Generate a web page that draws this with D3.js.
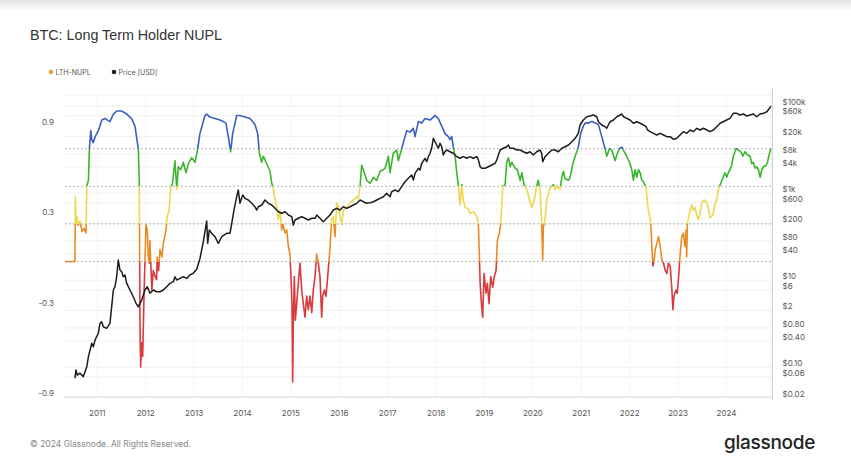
<!DOCTYPE html>
<html>
<head>
<meta charset="utf-8">
<script src="https://cdn.jsdelivr.net/npm/d3@7"></script>
<style>
  html, body { margin: 0; padding: 0; background: #fff; }
  svg { display: block; }
</style>
</head>
<body>
<svg id="chart" width="851" height="472"></svg>
<script>
// ---------------- DATA ----------------
const yearTicks = [2011, 2012, 2013, 2014, 2015, 2016, 2017, 2018, 2019, 2020, 2021, 2022, 2023, 2024];
const nuplTicks = [0.9, 0.3, -0.3, -0.9];
const zoneLevels = [0, 0.25, 0.5, 0.75];
const priceTicks = [100000, 60000, 20000, 8000, 4000, 1000, 600, 200, 80, 40, 10, 6, 2, 0.8, 0.4, 0.1, 0.06, 0.02];
const priceTickLabels = ["$100k", "$60k", "$20k", "$8k", "$4k", "$1k", "$600", "$200", "$80", "$40", "$10", "$6", "$2", "$0.80", "$0.40", "$0.10", "$0.06", "$0.02"];

// LTH-NUPL: [decimal year, value]
const lthNupl = [
  [2010.332, 0.00], [2010.539, 0.00], [2010.547, 0.43], [2010.560, 0.25], [2010.581, 0.30], [2010.607, 0.24],
  [2010.643, 0.27], [2010.685, 0.20], [2010.727, 0.22], [2010.768, 0.19], [2010.783, 0.50], [2010.817, 0.54],
  [2010.837, 0.75], [2010.866, 0.87], [2010.886, 0.81], [2010.916, 0.79], [2010.956, 0.83], [2011.024, 0.87],
  [2011.093, 0.94], [2011.163, 0.95], [2011.262, 0.93], [2011.332, 0.98], [2011.401, 1.00], [2011.501, 1.00],
  [2011.610, 0.98], [2011.709, 0.95], [2011.779, 0.90], [2011.819, 0.81], [2011.848, 0.75], [2011.868, 0.52],
  [2011.882, -0.41], [2011.896, -0.70], [2011.918, -0.54], [2011.938, -0.63], [2011.968, -0.19], [2011.992, 0.08],
  [2012.007, 0.25], [2012.033, 0.21], [2012.054, 0.03], [2012.077, -0.01], [2012.087, 0.14], [2012.127, -0.19],
  [2012.156, -0.06], [2012.196, -0.10], [2012.226, -0.12], [2012.236, 0.03], [2012.266, -0.06], [2012.296, 0.08],
  [2012.335, 0.03], [2012.365, 0.12], [2012.420, 0.21], [2012.445, 0.30], [2012.484, 0.34], [2012.514, 0.48],
  [2012.554, 0.52], [2012.604, 0.67], [2012.643, 0.48], [2012.673, 0.63], [2012.723, 0.61], [2012.777, 0.66],
  [2012.832, 0.59], [2012.882, 0.65], [2012.951, 0.69], [2013.020, 0.66], [2013.070, 0.74], [2013.120, 0.85],
  [2013.190, 0.93], [2013.225, 0.97], [2013.259, 0.98], [2013.328, 0.96], [2013.432, 0.95], [2013.535, 0.94],
  [2013.604, 0.93], [2013.659, 0.92], [2013.707, 0.83], [2013.756, 0.73], [2013.797, 0.85], [2013.880, 0.97],
  [2013.948, 0.97], [2014.051, 0.96], [2014.155, 0.95], [2014.258, 0.91], [2014.314, 0.85], [2014.348, 0.72],
  [2014.397, 0.66], [2014.430, 0.70], [2014.501, 0.65], [2014.569, 0.60], [2014.604, 0.52], [2014.638, 0.48],
  [2014.672, 0.41], [2014.707, 0.36], [2014.741, 0.28], [2014.776, 0.34], [2014.810, 0.21], [2014.832, 0.25],
  [2014.879, 0.19], [2014.914, 0.21], [2014.948, 0.10], [2014.981, 0.05], [2015.002, -0.10], [2015.023, -0.28],
  [2015.037, -0.80], [2015.050, -0.41], [2015.071, -0.10], [2015.092, -0.39], [2015.120, -0.28], [2015.153, -0.145],
  [2015.188, -0.01], [2015.223, -0.19], [2015.256, -0.28], [2015.292, -0.37], [2015.326, -0.23], [2015.360, -0.32],
  [2015.395, -0.23], [2015.430, -0.34], [2015.463, -0.19], [2015.498, -0.10], [2015.533, 0.05], [2015.567, -0.01],
  [2015.601, -0.10], [2015.636, -0.37], [2015.657, -0.23], [2015.691, -0.19], [2015.725, -0.23], [2015.760, -0.10],
  [2015.794, 0.03], [2015.822, 0.165], [2015.843, 0.28], [2015.877, 0.30], [2015.911, 0.165], [2015.946, 0.39],
  [2015.980, 0.36], [2016.015, 0.30], [2016.050, 0.25], [2016.083, 0.34], [2016.153, 0.36], [2016.222, 0.39],
  [2016.290, 0.41], [2016.360, 0.43], [2016.394, 0.42], [2016.429, 0.50], [2016.463, 0.64], [2016.497, 0.61],
  [2016.567, 0.54], [2016.635, 0.52], [2016.704, 0.56], [2016.774, 0.54], [2016.842, 0.60], [2016.911, 0.61],
  [2016.946, 0.62], [2017.013, 0.70], [2017.048, 0.59], [2017.116, 0.72], [2017.186, 0.74], [2017.220, 0.67],
  [2017.289, 0.75], [2017.393, 0.87], [2017.461, 0.86], [2017.530, 0.885], [2017.565, 0.83], [2017.633, 0.93],
  [2017.703, 0.92], [2017.771, 0.95], [2017.875, 0.94], [2017.977, 0.97], [2018.046, 0.95], [2018.116, 0.90],
  [2018.184, 0.85], [2018.253, 0.83], [2018.288, 0.81], [2018.323, 0.83], [2018.356, 0.76], [2018.392, 0.70],
  [2018.427, 0.59], [2018.461, 0.50], [2018.495, 0.375], [2018.530, 0.51], [2018.563, 0.41], [2018.599, 0.36],
  [2018.667, 0.35], [2018.702, 0.32], [2018.770, 0.33], [2018.841, 0.30], [2018.874, 0.25], [2018.895, 0.03],
  [2018.910, -0.145], [2018.941, -0.30], [2018.963, -0.37], [2018.990, -0.08], [2019.031, -0.21], [2019.059, -0.145],
  [2019.094, -0.28], [2019.128, -0.10], [2019.170, -0.17], [2019.203, -0.10], [2019.239, -0.06], [2019.266, 0.14],
  [2019.307, 0.19], [2019.336, 0.25], [2019.378, 0.50], [2019.425, 0.51], [2019.459, 0.66], [2019.494, 0.69],
  [2019.529, 0.63], [2019.564, 0.66], [2019.632, 0.62], [2019.680, 0.61], [2019.736, 0.54], [2019.771, 0.59],
  [2019.818, 0.51], [2019.875, 0.48], [2019.929, 0.41], [2019.974, 0.36], [2020.023, 0.40], [2020.064, 0.48],
  [2020.111, 0.54], [2020.147, 0.48], [2020.182, 0.25], [2020.203, 0.01], [2020.216, 0.23], [2020.251, 0.28],
  [2020.286, 0.41], [2020.320, 0.45], [2020.355, 0.49], [2020.423, 0.51], [2020.459, 0.48], [2020.493, 0.50],
  [2020.562, 0.48], [2020.597, 0.56], [2020.630, 0.60], [2020.666, 0.55], [2020.734, 0.54], [2020.770, 0.56],
  [2020.826, 0.65], [2020.873, 0.70], [2020.938, 0.76], [2020.987, 0.85], [2021.042, 0.90], [2021.077, 0.92],
  [2021.146, 0.92], [2021.216, 0.93], [2021.284, 0.92], [2021.353, 0.91], [2021.423, 0.83], [2021.491, 0.75],
  [2021.526, 0.70], [2021.580, 0.75], [2021.630, 0.74], [2021.699, 0.67], [2021.734, 0.71], [2021.788, 0.75],
  [2021.838, 0.76], [2021.886, 0.73], [2021.938, 0.70], [2022.007, 0.65], [2022.042, 0.61], [2022.076, 0.54],
  [2022.111, 0.61], [2022.146, 0.56], [2022.180, 0.61], [2022.215, 0.59], [2022.250, 0.54], [2022.284, 0.53],
  [2022.339, 0.49], [2022.367, 0.39], [2022.387, 0.34], [2022.408, 0.31], [2022.437, 0.25], [2022.458, 0.10],
  [2022.479, -0.03], [2022.505, 0.01], [2022.526, 0.08], [2022.561, 0.12], [2022.595, 0.165], [2022.630, 0.10],
  [2022.665, 0.01], [2022.698, -0.01], [2022.734, -0.06], [2022.768, -0.08], [2022.801, -0.01], [2022.837, -0.03],
  [2022.872, -0.19], [2022.892, -0.32], [2022.914, -0.23], [2022.954, -0.19], [2022.982, -0.21], [2023.011, -0.10],
  [2023.038, 0.03], [2023.074, 0.165], [2023.107, 0.19], [2023.142, 0.10], [2023.163, 0.21], [2023.177, 0.03],
  [2023.191, 0.25], [2023.232, 0.32], [2023.282, 0.375], [2023.315, 0.34], [2023.349, 0.36], [2023.384, 0.31],
  [2023.418, 0.28], [2023.453, 0.32], [2023.488, 0.39], [2023.536, 0.41], [2023.593, 0.39], [2023.626, 0.35],
  [2023.660, 0.29], [2023.695, 0.30], [2023.730, 0.32], [2023.764, 0.39], [2023.799, 0.41], [2023.832, 0.48],
  [2023.868, 0.51], [2023.920, 0.55], [2023.968, 0.59], [2024.003, 0.56], [2024.037, 0.59], [2024.072, 0.61],
  [2024.107, 0.64], [2024.141, 0.70], [2024.197, 0.75], [2024.245, 0.74], [2024.295, 0.73], [2024.336, 0.70],
  [2024.384, 0.73], [2024.432, 0.71], [2024.487, 0.70], [2024.522, 0.65], [2024.556, 0.66], [2024.591, 0.62],
  [2024.625, 0.63], [2024.660, 0.61], [2024.695, 0.56], [2024.730, 0.61], [2024.764, 0.63], [2024.819, 0.64],
  [2024.846, 0.66], [2024.889, 0.72], [2024.914, 0.75]
];

// BTC price in USD: [decimal year, price]
const priceUsd = [
  [2010.539, 0.056], [2010.560, 0.087], [2010.587, 0.066], [2010.643, 0.073], [2010.712, 0.061], [2010.747, 0.079],
  [2010.783, 0.103], [2010.817, 0.175], [2010.851, 0.249], [2010.886, 0.355], [2010.919, 0.296], [2010.954, 0.423],
  [2011.021, 0.603], [2011.055, 1.02], [2011.091, 1.11], [2011.124, 0.853], [2011.193, 0.783], [2011.262, 1.02],
  [2011.332, 5.94], [2011.366, 7.08], [2011.401, 12.0], [2011.434, 29.0], [2011.469, 17.1], [2011.505, 15.6],
  [2011.538, 12.0], [2011.572, 13.2], [2011.608, 8.47], [2011.675, 5.94], [2011.744, 4.17], [2011.800, 2.94],
  [2011.848, 2.45], [2011.882, 2.94], [2011.918, 3.50], [2011.985, 5.94], [2012.033, 7.08], [2012.089, 4.99],
  [2012.157, 5.94], [2012.228, 5.43], [2012.296, 5.43], [2012.364, 5.94], [2012.435, 7.08], [2012.502, 8.47],
  [2012.571, 9.23], [2012.606, 12.0], [2012.641, 10.1], [2012.709, 11.0], [2012.777, 12.0], [2012.848, 11.0],
  [2012.915, 13.2], [2012.983, 14.4], [2013.054, 17.8], [2013.122, 31.6], [2013.190, 76], [2013.261, 229],
  [2013.281, 70.3], [2013.314, 142], [2013.364, 119], [2013.432, 99.5], [2013.500, 70.3], [2013.571, 99.5],
  [2013.674, 119], [2013.742, 119], [2013.778, 202], [2013.824, 408], [2013.881, 826], [2013.913, 1178],
  [2013.948, 582], [2014.004, 904], [2014.051, 759], [2014.120, 693], [2014.190, 582], [2014.258, 486],
  [2014.294, 408], [2014.327, 486], [2014.398, 532], [2014.465, 693], [2014.534, 582], [2014.605, 532],
  [2014.672, 447], [2014.741, 373], [2014.812, 344], [2014.879, 373], [2014.948, 314], [2015.017, 287],
  [2015.050, 185], [2015.085, 241], [2015.153, 264], [2015.224, 287], [2015.292, 264], [2015.360, 241],
  [2015.431, 264], [2015.498, 264], [2015.534, 314], [2015.601, 264], [2015.670, 220], [2015.741, 264],
  [2015.808, 314], [2015.877, 408], [2015.946, 447], [2016.015, 408], [2016.083, 486], [2016.153, 447],
  [2016.222, 486], [2016.290, 532], [2016.360, 582], [2016.429, 693], [2016.497, 634], [2016.567, 582],
  [2016.635, 603], [2016.704, 634], [2016.774, 693], [2016.842, 759], [2016.911, 826], [2016.979, 989],
  [2017.048, 826], [2017.083, 1076], [2017.151, 1178], [2017.220, 1076], [2017.289, 1403], [2017.358, 1824],
  [2017.427, 2183], [2017.496, 2600], [2017.530, 1995], [2017.565, 2844], [2017.633, 3707], [2017.668, 3388],
  [2017.703, 4831], [2017.771, 6295], [2017.806, 5260], [2017.840, 6855], [2017.875, 8204], [2017.908, 10690],
  [2017.943, 18110], [2017.977, 15140], [2018.012, 12700], [2018.046, 10690], [2018.081, 13900], [2018.116, 11610],
  [2018.149, 7500], [2018.184, 8913], [2018.219, 9772], [2018.288, 8913], [2018.356, 8204], [2018.427, 6855],
  [2018.495, 6295], [2018.563, 6855], [2018.634, 6295], [2018.702, 6855], [2018.770, 6295], [2018.841, 6855],
  [2018.874, 5754], [2018.910, 4036], [2018.941, 3707], [2019.011, 3707], [2019.079, 4036], [2019.149, 4416],
  [2019.218, 4831], [2019.253, 5754], [2019.287, 7500], [2019.322, 9772], [2019.389, 10690], [2019.459, 11610],
  [2019.494, 12700], [2019.529, 10690], [2019.598, 10690], [2019.666, 9772], [2019.736, 9772], [2019.804, 8913],
  [2019.875, 8204], [2019.940, 8913], [2020.008, 7500], [2020.078, 8913], [2020.147, 9772], [2020.182, 8204],
  [2020.203, 5260], [2020.251, 6855], [2020.320, 8204], [2020.390, 9772], [2020.459, 9772], [2020.526, 8913],
  [2020.597, 10690], [2020.666, 11610], [2020.734, 12700], [2020.805, 15140], [2020.873, 18110], [2020.938, 23600],
  [2020.974, 36640], [2021.042, 47640], [2021.112, 56750], [2021.181, 58880], [2021.250, 62090], [2021.319, 56750],
  [2021.353, 43550], [2021.423, 36640], [2021.491, 33500], [2021.526, 30760], [2021.559, 36640], [2021.595, 43550],
  [2021.663, 47640], [2021.734, 56750], [2021.803, 62090], [2021.838, 65460], [2021.871, 56750], [2021.938, 52120],
  [2022.007, 47640], [2022.076, 40090], [2022.146, 43550], [2022.215, 40090], [2022.284, 36640], [2022.339, 33500],
  [2022.367, 28120], [2022.422, 25700], [2022.491, 23600], [2022.561, 21580], [2022.630, 23600], [2022.698, 21580],
  [2022.768, 19720], [2022.837, 19720], [2022.906, 17180], [2022.972, 18110], [2023.040, 21580], [2023.108, 25700],
  [2023.180, 23600], [2023.247, 28120], [2023.316, 25700], [2023.387, 30760], [2023.453, 28120], [2023.523, 30760],
  [2023.593, 28120], [2023.660, 25700], [2023.730, 28120], [2023.799, 33500], [2023.868, 40090], [2023.933, 43550],
  [2024.003, 47640], [2024.072, 52120], [2024.141, 67920], [2024.210, 67920], [2024.281, 62090], [2024.349, 65460],
  [2024.418, 58880], [2024.487, 62090], [2024.555, 65460], [2024.625, 56750], [2024.695, 65460], [2024.764, 67920],
  [2024.834, 73960], [2024.889, 88510], [2024.914, 100000]
];

const zoneColors = { blue: "#3d5ec2", green: "#3ab52d", yellow: "#efd650", orange: "#e98b24", red: "#d93a3c" };

// ---------------- LAYOUT ----------------
const svg = d3.select("#chart");
const W = 851, H = 472;
const plot = { left: 65, right: 772.3, top: 96, bottom: 397 };
const FONT = "Inter, 'Liberation Sans', Arial, sans-serif";

const x = d3.scaleLinear().domain([2010.333, 2024.946]).range([plot.left, plot.right]);
const yL = d3.scaleLinear().domain([-0.9, 1.1]).range([plot.bottom, plot.top]);
const yR = d3.scaleLog().domain([0.02, 100000]).range([397.7, 106]);

// top shadow
const defs = svg.append("defs");
const sh = defs.append("linearGradient").attr("id", "topShade").attr("x1", 0).attr("x2", 0).attr("y1", 0).attr("y2", 1);
sh.append("stop").attr("offset", 0).attr("stop-color", "#e4e4e4");
sh.append("stop").attr("offset", 1).attr("stop-color", "#ffffff");
svg.append("rect").attr("x", 0).attr("y", 0).attr("width", W).attr("height", 12).attr("fill", "url(#topShade)");

// title
svg.append("text").attr("x", 30).attr("y", 40)
  .attr("font-family", "'Liberation Sans', Arial, sans-serif").attr("font-size", 14.3).attr("fill", "#333")
  .text("BTC: Long Term Holder NUPL");

// legend
const leg = svg.append("g").attr("font-family", FONT).attr("font-size", 7).attr("fill", "#555");
leg.append("circle").attr("cx", 51).attr("cy", 72).attr("r", 2.3).attr("fill", "#e3a33c");
leg.append("text").attr("x", 55.5).attr("y", 74.5).text("LTH-NUPL");
leg.append("circle").attr("cx", 114).attr("cy", 72).attr("r", 2.3).attr("fill", "#222");
leg.append("text").attr("x", 118.5).attr("y", 74.5).text("Price [USD]");

// faint gridlines (price ticks)
const grid = svg.append("g");
grid.selectAll("line.h").data(priceTicks).join("line")
  .attr("x1", plot.left).attr("x2", plot.right)
  .attr("y1", d => yR(d)).attr("y2", d => yR(d))
  .attr("stroke", "#f0f0f0").attr("stroke-width", 1);
grid.append("line").attr("x1", plot.left).attr("x2", plot.right).attr("y1", plot.top - 1).attr("y2", plot.top - 1)
  .attr("stroke", "#f0f0f0");
grid.selectAll("line.v").data(yearTicks).join("line")
  .attr("x1", d => x(d)).attr("x2", d => x(d))
  .attr("y1", plot.top).attr("y2", plot.bottom)
  .attr("stroke", "#f6f6f6").attr("stroke-width", 1);

// zone dotted lines
svg.append("g").selectAll("line").data(zoneLevels).join("line")
  .attr("x1", plot.left).attr("x2", plot.right)
  .attr("y1", d => yL(d)).attr("y2", d => yL(d))
  .attr("stroke", "#aaaaaa").attr("stroke-width", 0.9).attr("stroke-dasharray", "2,2");

// bottom axis line & right axis line
svg.append("line").attr("x1", plot.left - 1).attr("x2", plot.right).attr("y1", plot.bottom).attr("y2", plot.bottom)
  .attr("stroke", "#dddddd");
svg.append("line").attr("x1", plot.right).attr("x2", plot.right).attr("y1", 88).attr("y2", plot.bottom + 3)
  .attr("stroke", "#c8c8c8");

// gradient for LTH-NUPL zones
const g = defs.append("linearGradient").attr("id", "zoneGrad").attr("gradientUnits", "userSpaceOnUse")
  .attr("x1", 0).attr("x2", 0).attr("y1", yL(1.1)).attr("y2", yL(-0.9));
const span = 2.0;
const off = v => (1.1 - v) / span;
[
  [0, zoneColors.blue], [off(0.75), zoneColors.blue],
  [off(0.75), zoneColors.green], [off(0.5), zoneColors.green],
  [off(0.5), zoneColors.yellow], [off(0.25), zoneColors.yellow],
  [off(0.25), zoneColors.orange], [off(0), zoneColors.orange],
  [off(0), zoneColors.red], [1, zoneColors.red]
].forEach(([o, c]) => g.append("stop").attr("offset", o).attr("stop-color", c));

defs.append("clipPath").attr("id", "plotClip").append("rect")
  .attr("x", plot.left).attr("y", plot.top - 10).attr("width", plot.right - plot.left).attr("height", plot.bottom - plot.top + 10);

const nuplLine = d3.line().x(d => x(d[0])).y(d => yL(d[1]));
svg.append("path").datum(lthNupl).attr("d", nuplLine)
  .attr("fill", "none").attr("stroke", "url(#zoneGrad)").attr("stroke-width", 1.6)
  .attr("stroke-linejoin", "round").attr("clip-path", "url(#plotClip)");

const priceLine = d3.line().x(d => x(d[0])).y(d => yR(d[1]));
svg.append("path").datum(priceUsd).attr("d", priceLine)
  .attr("fill", "none").attr("stroke", "#1c1c1c").attr("stroke-width", 1.5)
  .attr("stroke-linejoin", "round").attr("clip-path", "url(#plotClip)");

// left axis labels
svg.append("g").attr("font-family", FONT).attr("font-size", 8).attr("fill", "#555")
  .selectAll("text").data(nuplTicks).join("text")
  .attr("x", 54).attr("y", d => yL(d) - 4).attr("dy", "0.35em").attr("text-anchor", "end")
  .text(d => d3.format(".1f")(d).replace("−", "-"));

// right axis labels
svg.append("g").attr("font-family", FONT).attr("font-size", 8).attr("fill", "#555")
  .selectAll("text").data(priceTicks).join("text")
  .attr("x", 782.5).attr("y", d => yR(d) - 4).attr("dy", "0.35em")
  .text((d, i) => priceTickLabels[i]);

// x axis labels
svg.append("g").attr("font-family", FONT).attr("font-size", 8).attr("fill", "#555")
  .selectAll("text").data(yearTicks).join("text")
  .attr("x", d => x(d)).attr("y", 413).attr("dy", "0.35em").attr("text-anchor", "middle")
  .text(d => d);

// footer
svg.append("text").attr("x", 30).attr("y", 447).attr("font-family", FONT).attr("font-size", 8.5).attr("fill", "#888")
  .text("© 2024 Glassnode. All Rights Reserved.");
svg.append("text").attr("x", 815).attr("y", 449).attr("text-anchor", "end")
  .attr("font-family", FONT).attr("font-size", 19).attr("font-weight", 500).attr("fill", "#222")
  .attr("letter-spacing", "-0.3")
  .text("glassnode");
</script>
</body>
</html>
